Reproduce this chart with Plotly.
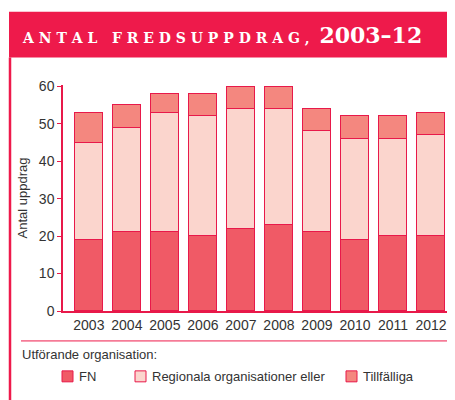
import plotly.graph_objects as go

years = ["2003", "2004", "2005", "2006", "2007", "2008", "2009", "2010", "2011", "2012"]
fn = [19, 21, 21, 20, 22, 23, 21, 19, 20, 20]
regional = [26, 28, 32, 32, 32, 31, 27, 27, 26, 27]
temporary = [8, 6, 5, 6, 6, 6, 6, 6, 6, 6]
series_names = ["FN", "Regionala organisationer eller", "Tillfälliga"]
colors = ["#F05A66", "#FBD5CD", "#F4877F"]
edge = "#E8194A"

# page has 8px body margin; work in page coords and convert
OFF = 8
W, H = 455 - OFF, 400 - OFF
L, R, T, B = 63 - OFF, 5, 84.5 - OFF, 89
xs = list(range(len(years)))

fig = go.Figure()
for name, vals, col in zip(series_names, [fn, regional, temporary], colors):
    fig.add_trace(go.Bar(x=xs, y=vals, name=name, marker=dict(color=col, line=dict(color=edge, width=1.2)),
                         width=0.73, showlegend=False, cliponaxis=False))

def px(x):
    return (x - OFF - L) / (W - L - R)

def py(y):
    return 1 - (y - OFF - T) / (H - T - B)

shapes = [
    dict(type="rect", xref="paper", yref="paper", x0=px(9), x1=px(460), y0=py(57), y1=py(11),
         fillcolor="#EE1A4B", line=dict(width=0), layer="above"),
    dict(type="line", xref="paper", yref="paper", x0=px(10), x1=px(10), y0=py(57), y1=py(405),
         line=dict(color="#EE1A4B", width=2.5)),
    dict(type="line", xref="paper", yref="paper", x0=px(21), x1=px(460), y0=py(341), y1=py(341),
         line=dict(color="#EE1A4B", width=1)),
]
title = ("A N T A L&nbsp;&nbsp; F R E D S U P P D R A G ,&nbsp;&nbsp;"
         "<span style='font-size:22px'>2003–12</span>")
annotations = [
    dict(text=title, xref="paper", yref="paper",
         x=px(20), y=py(34), xanchor="left", yanchor="middle", showarrow=False,
         font=dict(family="DejaVu Serif", size=14, color="white", weight="bold")),
    dict(text="Utförande organisation:", xref="paper", yref="paper", x=px(20), y=py(355),
         xanchor="left", yanchor="middle", showarrow=False,
         font=dict(family="Liberation Sans", size=13, color="#333333")),
]
leg_x = [62, 135, 346]
for lx, name, col in zip(leg_x, series_names, colors):
    shapes.append(dict(type="rect", xref="paper", yref="paper", x0=px(lx), x1=px(lx + 11),
                       y0=py(382), y1=py(371), fillcolor=col, line=dict(color=edge, width=1)))
    annotations.append(dict(text=name, xref="paper", yref="paper", x=px(lx + 15), y=py(376.5),
                            xanchor="left", yanchor="middle", showarrow=False,
                            font=dict(family="Liberation Sans", size=13, color="#333333")))

fig.update_layout(
    width=W, height=H, barmode="stack", bargap=0,
    margin=dict(l=L, r=R, t=T, b=B),
    paper_bgcolor="white", plot_bgcolor="white",
    font=dict(family="Liberation Sans", size=13, color="#333333"),
    shapes=shapes, annotations=annotations,
    xaxis=dict(range=[-0.68, 9.5], tickvals=xs, ticktext=years, showline=True, linecolor=edge,
               linewidth=1.5, ticks="", showgrid=False, zeroline=False, fixedrange=True,
               tickfont=dict(size=14, color="#333333")),
    yaxis=dict(range=[0, 60.4], tickvals=[0, 10, 20, 30, 40, 50, 60], showline=True, linecolor=edge,
               linewidth=1.5, ticks="outside",
               ticklen=4, tickcolor=edge, showgrid=False, zeroline=False,
               title=dict(text="Antal uppdrag", font=dict(size=13, color="#333333"), standoff=8),
               tickfont=dict(size=14, color="#333333")),
)
fig.write_html("out.html")
